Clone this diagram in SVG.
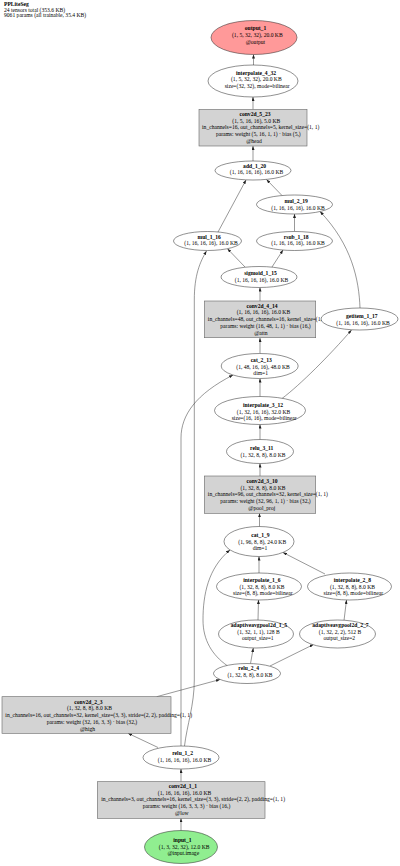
<svg xmlns="http://www.w3.org/2000/svg" width="400" height="866" viewBox="0 0 400 866">
<style>
text{font-family:"Liberation Serif","Times New Roman",serif;font-size:5.6px;fill:#000;text-anchor:middle}
.b{font-weight:bold}
.hd{text-anchor:start}
.el{fill:#fff;stroke:#222;stroke-width:0.5}
.bx{fill:#d3d3d3;stroke:#666;stroke-width:0.6}
.out{fill:#ff9999}
.inp{fill:#90ee90}
#edges path{fill:none;stroke:#333;stroke-width:0.5;marker-end:url(#ah)}
</style>
<defs>
<marker id="ah" markerUnits="userSpaceOnUse" markerWidth="4" markerHeight="3" refX="4" refY="1.5" orient="auto">
<path d="M0,0 L4,1.5 L0,3 z" fill="#222"/>
</marker>
</defs>
<rect width="400" height="866" fill="#fff"/>
<g id="header">
<text class="hd b" x="4" y="6.3">PPLiteSeg</text>
<text class="hd" x="4" y="11.8">24 tensors total (353.6 KB)</text>
<text class="hd" x="4" y="17.3">9061 params (all trainable, 35.4 KB)</text>
</g>
<g id="edges">
<path d="M181,830.5 L181,818.3"/>
<path d="M181,781.7 L181,769"/>
<path d="M158,747.5 L128,733.3"/>
<path d="M156.7,696.7 L220,679.5"/>
<path d="M250.5,663.5 L253.3,648"/>
<path d="M270,666 L313.5,644.5"/>
<path d="M227.3,665.7 C212,655 203,640 203,620 C203,595 208,568 230,550"/>
<path d="M181,746 L181,438 C181,415 196,394 233,375"/>
<path d="M184.5,746 C187,725 194.3,705 194.3,680 L194.3,300 C194.3,275 200,262 206.5,251"/>
<path d="M258,620 L258.5,600"/>
<path d="M344,620.5 L346.5,600"/>
<path d="M259,573 L259,556.5"/>
<path d="M325,574 L283,552.5"/>
<path d="M259.5,526.5 L259.5,513.3"/>
<path d="M260,476 L260,463.5"/>
<path d="M260,439.5 L260,424.5"/>
<path d="M260,396.5 L260,378.5"/>
<path d="M282,398.5 C300,385 330,355 351.5,330"/>
<path d="M260,353.5 L260,338"/>
<path d="M260,301 L260,287.5"/>
<path d="M245,267 L227.5,248.8"/>
<path d="M272,267 L283,250"/>
<path d="M294.5,231.5 L294.5,214"/>
<path d="M360,308 C359,280 352,245 320,211.5"/>
<path d="M218,232 L246,180"/>
<path d="M282,195.5 L266.5,179.5"/>
<path d="M253,161 L253,146"/>
<path d="M253,109.5 L253,97"/>
<path d="M253.5,65 L253.5,54.5"/>
</g>
<g id="output_1">
<ellipse class="el out" cx="254" cy="37.5" rx="43" ry="17"/>
<text class="b" x="255.5" y="30.3">output_1</text>
<text x="257.3" y="37">(1, 5, 32, 32), 20.0 KB</text>
<text x="255.4" y="43.7">@output</text>
</g>
<g id="interpolate_4_32">
<ellipse class="el" cx="253" cy="81" rx="45" ry="16"/>
<text class="b" x="256" y="74.7">interpolate_4_32</text>
<text x="256.3" y="81.4">(1, 5, 32, 32), 20.0 KB</text>
<text x="257.2" y="88.1">size=(32, 32), mode=bilinear</text>
</g>
<g id="conv2d_5_23">
<rect class="bx" x="199" y="109.5" width="108" height="36.5"/>
<text class="b" x="255" y="116">conv2d_5_23</text>
<text x="256.3" y="122.7">(1, 5, 16, 16), 5.0 KB</text>
<text x="260.7" y="129.4">in_channels=16, out_channels=5, kernel_size=(1, 1)</text>
<text x="258.3" y="136.1">params: weight (5, 16, 1, 1) · bias (5,)</text>
<text x="254" y="142.8">@head</text>
</g>
<g id="add_1_20">
<ellipse class="el" cx="253" cy="170.5" rx="38" ry="9.5"/>
<text class="b" x="254.6" y="167.7">add_1_20</text>
<text x="256.5" y="174.4">(1, 16, 16, 16), 16.0 KB</text>
</g>
<g id="mul_2_19">
<ellipse class="el" cx="294.5" cy="204.5" rx="38" ry="9.5"/>
<text class="b" x="296.2" y="203.3">mul_2_19</text>
<text x="298" y="210">(1, 16, 16, 16), 16.0 KB</text>
</g>
<g id="mul_1_16">
<ellipse class="el" cx="207.5" cy="241" rx="34" ry="9.5"/>
<text class="b" x="209.2" y="238.7">mul_1_16</text>
<text x="211" y="245.4">(1, 16, 16, 16), 16.0 KB</text>
</g>
<g id="rsub_1_18">
<ellipse class="el" cx="294.5" cy="241" rx="38" ry="9.5"/>
<text class="b" x="296.2" y="238.7">rsub_1_18</text>
<text x="298" y="245.4">(1, 16, 16, 16), 16.0 KB</text>
</g>
<g id="sigmoid_1_15">
<ellipse class="el" cx="259" cy="277" rx="38" ry="10.5"/>
<text class="b" x="260.5" y="275.3">sigmoid_1_15</text>
<text x="261.5" y="282">(1, 16, 16, 16), 16.0 KB</text>
</g>
<g id="conv2d_4_14">
<rect class="bx" x="204.3" y="301" width="111.4" height="36.7"/>
<text class="b" x="262" y="307.7">conv2d_4_14</text>
<text x="263.4" y="314.4">(1, 16, 16, 16), 16.0 KB</text>
<text x="267.9" y="321.1">in_channels=48, out_channels=16, kernel_size=(1, 1)</text>
<text x="265.5" y="327.8">params: weight (16, 48, 1, 1) · bias (16,)</text>
<text x="260.9" y="334.5">@attn</text>
</g>
<g id="getitem_1_17">
<ellipse class="el" cx="359.5" cy="319" rx="38.5" ry="11"/>
<text class="b" x="361.8" y="318">getitem_1_17</text>
<text x="363" y="324.7">(1, 16, 16, 16), 16.0 KB</text>
</g>
<g id="cat_2_13">
<ellipse class="el" cx="259.7" cy="366" rx="38.5" ry="12.5"/>
<text class="b" x="261.2" y="362">cat_2_13</text>
<text x="263" y="368.7">(1, 48, 16, 16), 48.0 KB</text>
<text x="260.7" y="375.4">dim=1</text>
</g>
<g id="interpolate_3_12">
<ellipse class="el" cx="260" cy="410.5" rx="45.5" ry="14"/>
<text class="b" x="263" y="407">interpolate_3_12</text>
<text x="263.5" y="413.7">(1, 32, 16, 16), 32.0 KB</text>
<text x="264.2" y="420.4">size=(16, 16), mode=bilinear</text>
</g>
<g id="relu_3_11">
<ellipse class="el" cx="260" cy="451.5" rx="33.5" ry="12"/>
<text class="b" x="261.7" y="450.3">relu_3_11</text>
<text x="263" y="457">(1, 32, 8, 8), 8.0 KB</text>
</g>
<g id="conv2d_3_10">
<rect class="bx" x="204.3" y="476" width="111.4" height="37.3"/>
<text class="b" x="262" y="483">conv2d_3_10</text>
<text x="263" y="489.7">(1, 32, 8, 8), 8.0 KB</text>
<text x="267.9" y="496.4">in_channels=96, out_channels=32, kernel_size=(1, 1)</text>
<text x="265.5" y="503.1">params: weight (32, 96, 1, 1) · bias (32,)</text>
<text x="261.8" y="509.8">@pool_proj</text>
</g>
<g id="cat_1_9">
<ellipse class="el" cx="259" cy="541.5" rx="35" ry="15"/>
<text class="b" x="260.5" y="537">cat_1_9</text>
<text x="262.2" y="543.7">(1, 96, 8, 8), 24.0 KB</text>
<text x="260" y="550.4">dim=1</text>
</g>
<g id="interpolate_1_6">
<ellipse class="el" cx="259" cy="586.5" rx="42.5" ry="13.5"/>
<text class="b" x="261.8" y="582">interpolate_1_6</text>
<text x="262" y="588.7">(1, 32, 8, 8), 8.0 KB</text>
<text x="262.8" y="595.4">size=(8, 8), mode=bilinear</text>
</g>
<g id="interpolate_2_8">
<ellipse class="el" cx="349.5" cy="586.5" rx="42" ry="13.5"/>
<text class="b" x="352.3" y="582">interpolate_2_8</text>
<text x="352.5" y="588.7">(1, 32, 8, 8), 8.0 KB</text>
<text x="353.3" y="595.4">size=(8, 8), mode=bilinear</text>
</g>
<g id="adaptiveavgpool2d_1_5">
<ellipse class="el" cx="256" cy="634" rx="37.5" ry="14"/>
<text class="b" x="258.9" y="627">adaptiveavgpool2d_1_5</text>
<text x="258.5" y="633.7">(1, 32, 1, 1), 128 B</text>
<text x="257.8" y="640.4">output_size=1</text>
</g>
<g id="adaptiveavgpool2d_2_7">
<ellipse class="el" cx="337.5" cy="634" rx="38" ry="14"/>
<text class="b" x="340.4" y="627">adaptiveavgpool2d_2_7</text>
<text x="340" y="633.7">(1, 32, 2, 2), 512 B</text>
<text x="339.3" y="640.4">output_size=2</text>
</g>
<g id="relu_2_4">
<ellipse class="el" cx="247" cy="673.5" rx="33.5" ry="10"/>
<text class="b" x="248.7" y="670.3">relu_2_4</text>
<text x="250" y="677">(1, 32, 8, 8), 8.0 KB</text>
</g>
<g id="conv2d_2_3">
<rect class="bx" x="2" y="696.7" width="169" height="36.6"/>
<text class="b" x="88.5" y="703.7">conv2d_2_3</text>
<text x="89.5" y="710.4">(1, 32, 8, 8), 8.0 KB</text>
<text x="98.7" y="717.1">in_channels=16, out_channels=32, kernel_size=(3, 3), stride=(2, 2), padding=(1, 1)</text>
<text x="92" y="723.8">params: weight (32, 16, 3, 3) · bias (32,)</text>
<text x="87.5" y="730.5">@high</text>
</g>
<g id="relu_1_2">
<ellipse class="el" cx="181" cy="757.5" rx="38" ry="11.5"/>
<text class="b" x="182.6" y="755.3">relu_1_2</text>
<text x="184.5" y="762">(1, 16, 16, 16), 16.0 KB</text>
</g>
<g id="conv2d_1_1">
<rect class="bx" x="97.3" y="781.7" width="167.7" height="36.6"/>
<text class="b" x="183" y="788">conv2d_1_1</text>
<text x="184.5" y="794.7">(1, 16, 16, 16), 16.0 KB</text>
<text x="193.1" y="801.4">in_channels=3, out_channels=16, kernel_size=(3, 3), stride=(2, 2), padding=(1, 1)</text>
<text x="186.5" y="808.1">params: weight (16, 3, 3, 3) · bias (16,)</text>
<text x="181.8" y="814.8">@low</text>
</g>
<g id="input_1">
<ellipse class="el inp" cx="181" cy="847" rx="36.5" ry="16.5"/>
<text class="b" x="182.4" y="842">input_1</text>
<text x="184.2" y="848.7">(1, 3, 32, 32), 12.0 KB</text>
<text x="183.3" y="855.4">@input.image</text>
</g>
</svg>
